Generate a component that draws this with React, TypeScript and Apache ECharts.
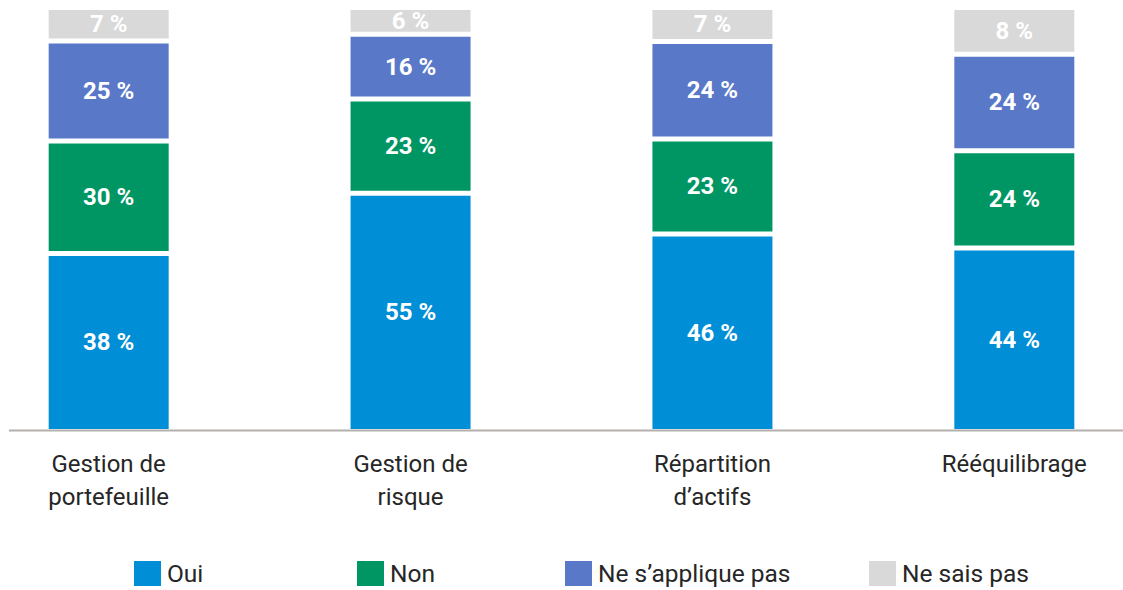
import React, { useEffect, useRef } from "react";
import * as echarts from "echarts";

const categories = ["Gestion de\nportefeuille", "Gestion de\nrisque", "Répartition\nd’actifs", "Rééquilibrage"];
const seriesNames = ["Oui", "Non", "Ne s’applique pas", "Ne sais pas"];

// segment heights (share of each bar)
const oui = [42, 56.2, 46.6, 43.3];
const non = [26.5, 22.2, 22.4, 22.9];
const nsp = [23.6, 15.3, 23, 22.8];
const nsais = [7.9, 6.3, 8, 11];

// printed percentages
const ouiLabels = ["38 %", "55 %", "46 %", "44 %"];
const nonLabels = ["30 %", "23 %", "23 %", "24 %"];
const nspLabels = ["25 %", "16 %", "24 %", "24 %"];
const nsaisLabels = ["7 %", "6 %", "7 %", "8 %"];

const colors = ["#008ED6", "#009664", "#5A78C8", "#D9D9D9"];
const legendLeft = [132, 355, 563, 867];

export default function App() {
  const ref = useRef<HTMLDivElement>(null);
  useEffect(() => {
    document.body.style.margin = "0";
    const chart = echarts.init(ref.current!, null, { renderer: "svg" });
    const values = [oui, non, nsp, nsais];
    const labels = [ouiLabels, nonLabels, nspLabels, nsaisLabels];
    const font = "Roboto, 'Noto Sans', sans-serif";
    const idx = categories.map((_, i) => i);
    chart.setOption({
      animation: false,
      color: colors,
      grid: { left: 0, top: 7.5, right: 0, height: 424 },
      xAxis: {
        type: "value",
        min: -0.36,
        max: 3.36,
        splitLine: { show: false },
        axisLine: { show: false },
        axisTick: { show: false },
        axisLabel: {
          customValues: idx,
          formatter: (v: number) => categories[Math.round(v)] ?? "",
          margin: 16,
          fontSize: 24,
          lineHeight: 33,
          color: "#262626",
          fontFamily: font,
        },
      },
      yAxis: { type: "value", min: 0, max: 100, show: false },
      legend: seriesNames.map((n, i) => ({
        data: [n],
        left: legendLeft[i],
        top: 559,
        itemWidth: 29,
        itemHeight: 27,
        icon: "rect",
        padding: 0,
        textStyle: { fontSize: 24.5, color: "#262626", fontFamily: font },
      })),
      graphic: [
        {
          type: "line",
          z: 100,
          shape: { x1: 9, y1: 430.5, x2: 1123, y2: 430.5 },
          style: { stroke: "#B3B0AD", lineWidth: 2 },
        },
      ],
      series: seriesNames.map((n, i) => ({
        name: n,
        type: "bar",
        stack: "total",
        barWidth: 125,
        dimensions: [
          { name: "share", type: "float" },
          { name: "pos", type: "float" },
        ],
        encode: { x: 1, y: 0 },
        data: values[i].map((v, j) => [v, idx[j]]),
        itemStyle: { borderColor: "#ffffff", borderWidth: 2.5 },
        label: {
          show: true,
          position: "inside",
          color: "#ffffff",
          fontWeight: "bold",
          fontSize: 24,
          fontFamily: font,
          formatter: (p: any) => labels[i][p.dataIndex],
        },
      })),
    });
    return () => chart.dispose();
  }, []);
  return <div ref={ref} style={{ width: 1123, height: 590 }} />;
}
